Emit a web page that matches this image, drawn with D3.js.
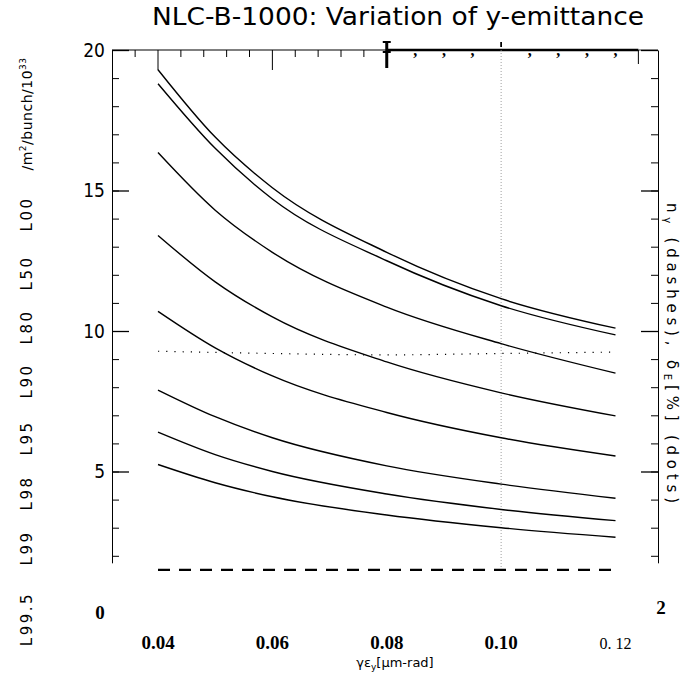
<!DOCTYPE html>
<html>
<head>
<meta charset="utf-8">
<script src="https://cdnjs.cloudflare.com/ajax/libs/d3/7.8.5/d3.min.js"></script>
<style>
body { margin: 0; background: #fff; }
svg { display: block; }
</style>
</head>
<body>
<script>
var emit = [0.04, 0.05, 0.06, 0.08, 0.10, 0.12];

// luminosity curves, /m^2/bunch/10^33, top to bottom
var lum00 = [19.3, 16.9, 15.1, 12.8, 11.15, 10.1];
var lum50 = [18.8, 16.5, 14.7, 12.5, 10.9, 9.86];
var lum80 = [16.35, 14.3, 12.8, 10.85, 9.55, 8.5];
var lum90 = [13.4, 11.75, 10.5, 8.9, 7.8, 6.98];
var lum95 = [10.7, 9.4, 8.4, 7.1, 6.2, 5.55];
var lum98 = [7.9, 6.95, 6.2, 5.2, 4.55, 4.05];
var lum99 = [6.4, 5.6, 5.0, 4.2, 3.65, 3.25];
var lum995 = [5.25, 4.6, 4.1, 3.45, 3.0, 2.66];
var curves = [lum00, lum50, lum80, lum90, lum95, lum98, lum99, lum995];

// delta_E (dots) and n_gamma (dashes)
var dotEmit = [0.04, 0.06, 0.08, 0.10, 0.12];
var dotVals = [9.28, 9.2, 9.15, 9.2, 9.25];
var dashEmit = [0.04, 0.12];
var dashVals = [1.5, 1.5];

var xTicks = [0.04, 0.06, 0.08, 0.10, 0.12];
var xTickLabels = ["0.04", "0.06", "0.08", "0.10", "0. 12"];
var yTicks = [5, 10, 15, 20];
var leftLabels = ["L99.5", "L99", "L98", "L95", "L90", "L80", "L50", "L00"];

var width = 683, height = 678;

var x = d3.scaleLinear().domain([0.04, 0.12]).range([158, 615.5]);
var y = d3.scaleLinear().domain([0, 20]).range([612, 50]);

var svg = d3.select("body").append("svg")
    .attr("width", width)
    .attr("height", height);

var frameL = 112, frameR = 658, frameT = y(20), yBottom = 1.75;

// title
svg.append("text")
    .attr("x", 152).attr("y", 25)
    .attr("textLength", 492)
    .attr("lengthAdjust", "spacingAndGlyphs")
    .style("font-family", "DejaVu Sans, sans-serif")
    .style("font-size", "24px")
    .text("NLC-B-1000: Variation of y-emittance");

// left axis, ticks pointing in
var yAx = y.copy().domain([yBottom, 20]).range([y(yBottom), y(20)]);
svg.append("g")
    .attr("transform", "translate(" + frameL + ",0)")
    .call(d3.axisLeft(yAx).tickValues(d3.range(2, 21)).tickSize(-7).tickSizeOuter(0).tickFormat(""))
    .call(function(g) { g.selectAll("line").attr("stroke", "#000"); g.select(".domain").attr("stroke", "#000"); });
svg.append("g")
    .attr("transform", "translate(" + frameL + ",0)")
    .call(d3.axisLeft(yAx).tickValues(yTicks).tickSize(-17).tickPadding(7).tickSizeOuter(0))
    .call(function(g) {
      g.select(".domain").remove();
      g.selectAll("line").attr("stroke", "#000").attr("stroke-width", 1.3);
      g.selectAll("text")
        .style("font-family", "Liberation Sans Narrow, DejaVu Sans Condensed, Liberation Sans, sans-serif")
        .style("font-size", "19px")
        .attr("fill", "#000");
    });

// right axis
svg.append("g")
    .attr("transform", "translate(" + frameR + ",0)")
    .call(d3.axisRight(yAx).tickValues(d3.range(2, 21)).tickSize(-7).tickSizeOuter(0).tickFormat(""))
    .call(function(g) { g.selectAll("line").attr("stroke", "#000"); g.select(".domain").attr("stroke", "#000"); });
svg.append("g")
    .attr("transform", "translate(" + frameR + ",0)")
    .call(d3.axisRight(yAx).tickValues(yTicks).tickSize(-17).tickSizeOuter(0).tickFormat(""))
    .call(function(g) { g.select(".domain").remove(); g.selectAll("line").attr("stroke", "#000").attr("stroke-width", 1.3); });

// top axis: thin left part with 0.004 ticks, heavy right part with comma ticks
svg.append("line").attr("x1", frameL).attr("x2", x(0.08)).attr("y1", frameT).attr("y2", frameT)
    .attr("stroke", "#000").attr("stroke-width", 1.2);
svg.append("line").attr("x1", x(0.08)).attr("x2", x(0.124)).attr("y1", frameT).attr("y2", frameT)
    .attr("stroke", "#000").attr("stroke-width", 2.6);
svg.append("line").attr("x1", x(0.124)).attr("x2", frameR).attr("y1", frameT).attr("y2", frameT)
    .attr("stroke", "#000").attr("stroke-width", 0.8);

var minorTop = d3.range(0.036, 0.0781, 0.004);
svg.append("g").selectAll("line").data(minorTop).join("line")
    .attr("x1", function(d) { return x(d); }).attr("x2", function(d) { return x(d); })
    .attr("y1", frameT).attr("y2", function(d) {
      return (Math.abs(d - 0.04) < 1e-6 || Math.abs(d - 0.06) < 1e-6) ? frameT + 20 : frameT + 7;
    })
    .attr("stroke", "#000").attr("stroke-width", 1);
svg.append("line").attr("x1", x(0.124)).attr("x2", x(0.124)).attr("y1", frameT).attr("y2", frameT + 14)
    .attr("stroke", "#000").attr("stroke-width", 1);

// the heavy "I" marker at 0.08
var ix = x(0.08);
svg.append("line").attr("x1", ix).attr("x2", ix).attr("y1", frameT - 9).attr("y2", frameT + 18)
    .attr("stroke", "#000").attr("stroke-width", 3);
svg.append("line").attr("x1", ix - 4).attr("x2", ix + 4).attr("y1", frameT - 8).attr("y2", frameT - 8)
    .attr("stroke", "#000").attr("stroke-width", 2);
svg.append("line").attr("x1", ix - 4).attr("x2", ix + 4).attr("y1", frameT + 2).attr("y2", frameT + 2)
    .attr("stroke", "#000").attr("stroke-width", 2);

var commaTop = d3.range(0.085, 0.1201, 0.005).filter(function(d) { return Math.abs(d - 0.10) > 1e-6; });
svg.append("g").selectAll("text").data(commaTop).join("text")
    .attr("x", function(d) { return x(d); }).attr("y", frameT + 6)
    .attr("text-anchor", "middle")
    .style("font-family", "Liberation Serif, serif")
    .style("font-weight", "bold")
    .style("font-size", "16px")
    .text(",");
svg.append("line").attr("x1", x(0.10)).attr("x2", x(0.10)).attr("y1", frameT - 8).attr("y2", frameT - 3)
    .attr("stroke", "#000").attr("stroke-width", 1.8);

// vertical dotted line at 0.10
svg.append("line")
    .attr("x1", x(0.10)).attr("x2", x(0.10))
    .attr("y1", frameT).attr("y2", y(1.45))
    .attr("stroke", "#888").attr("stroke-width", 0.8)
    .attr("stroke-dasharray", "1,2");

var line = d3.line()
    .x(function(d, i) { return x(emit[i]); })
    .y(function(d) { return y(d); })
    .curve(d3.curveMonotoneX);

svg.append("g").selectAll("path").data(curves).join("path")
    .attr("d", line)
    .attr("fill", "none")
    .attr("stroke", "#000")
    .attr("stroke-width", 1.4);

// dots: delta_E
var dotLine = d3.line()
    .x(function(d, i) { return x(dotEmit[i]); })
    .y(function(d) { return y(d); })
    .curve(d3.curveMonotoneX);
svg.append("path")
    .attr("d", dotLine(dotVals))
    .attr("fill", "none")
    .attr("stroke", "#000")
    .attr("stroke-width", 1.2)
    .attr("stroke-dasharray", "1.2,7");

// dashes: n_gamma
var dashLine = d3.line()
    .x(function(d, i) { return x(dashEmit[i]); })
    .y(function(d) { return y(d); });
svg.append("path")
    .attr("d", dashLine(dashVals))
    .attr("fill", "none")
    .attr("stroke", "#000")
    .attr("stroke-width", 2.4)
    .attr("stroke-dasharray", "12,9");

// bottom tick labels
svg.append("g").selectAll("text").data(xTicks).join("text")
    .attr("x", function(d) { return x(d); })
    .attr("y", 649)
    .attr("text-anchor", "middle")
    .style("font-family", "Liberation Serif, serif")
    .style("font-weight", function(d, i) { return i < 4 ? "bold" : "normal"; })
    .style("font-size", function(d, i) { return i < 4 ? "19px" : "16px"; })
    .text(function(d, i) { return xTickLabels[i]; });

svg.append("text").attr("x", 100).attr("y", y(0) + 7)
    .attr("text-anchor", "middle")
    .style("font-family", "Liberation Serif, serif").style("font-weight", "bold").style("font-size", "19px")
    .text("0");
svg.append("text").attr("x", 661).attr("y", y(0) + 2)
    .attr("text-anchor", "middle")
    .style("font-family", "Liberation Serif, serif").style("font-weight", "bold").style("font-size", "19px")
    .text("2");

// x axis title
var xt = svg.append("text").attr("x", 395).attr("y", 667)
    .attr("text-anchor", "middle")
    .style("font-family", "DejaVu Sans, sans-serif")
    .style("font-size", "13px");
xt.append("tspan").text("γε");
xt.append("tspan").attr("font-size", "9px").attr("dy", 3).text("y");
xt.append("tspan").attr("dy", -3).text("[μm-rad]");

// left rotated labels
var labPos = [619, 548, 493, 438, 381, 327, 273, 214];
svg.append("g").selectAll("text").data(leftLabels).join("text")
    .attr("transform", function(d, i) { return "translate(32," + labPos[i] + ") rotate(-90)"; })
    .attr("text-anchor", "middle")
    .style("font-family", "DejaVu Sans, sans-serif")
    .style("font-size", "15px")
    .style("letter-spacing", "2.5px")
    .text(function(d) { return d; });
var unit = svg.append("text")
    .attr("transform", "translate(32,114) rotate(-90)")
    .attr("text-anchor", "middle")
    .style("font-family", "DejaVu Sans, sans-serif")
    .style("font-size", "14px")
    .style("letter-spacing", "0.5px");
unit.append("tspan").text("/m");
unit.append("tspan").attr("font-size", "9px").attr("dy", -6).text("2");
unit.append("tspan").attr("dy", 6).text("/bunch/10");
unit.append("tspan").attr("font-size", "9px").attr("dy", -6).text("33");

// right rotated label
var rl = svg.append("text")
    .attr("transform", "translate(667,353) rotate(90)")
    .attr("text-anchor", "middle")
    .attr("textLength", 300)
    .attr("lengthAdjust", "spacing")
    .style("font-family", "DejaVu Sans, sans-serif")
    .style("font-size", "15px");
rl.append("tspan").text("n");
rl.append("tspan").attr("font-size", "10px").attr("dy", 3).text("γ");
rl.append("tspan").attr("dy", -3).text(" (dashes),   δ");
rl.append("tspan").attr("font-size", "10px").attr("dy", 3).text("E");
rl.append("tspan").attr("dy", -3).text("[%] (dots)");
</script>
</body>
</html>
